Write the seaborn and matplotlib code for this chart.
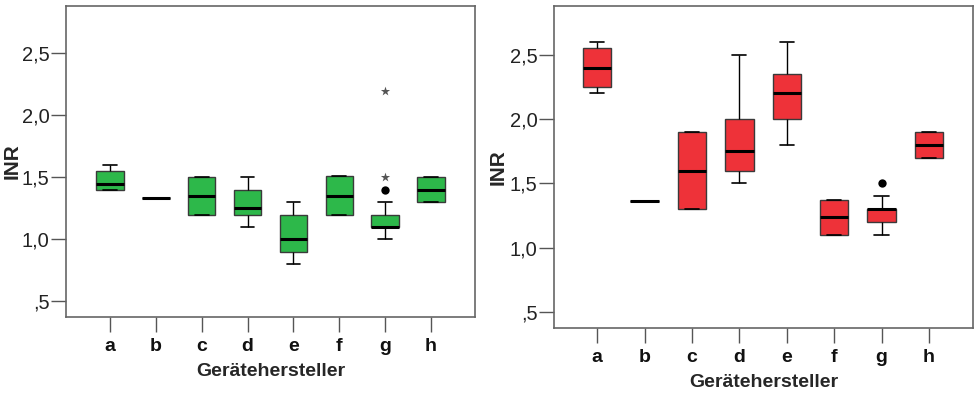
import numpy as np
import pandas as pd
import seaborn as sns
import matplotlib
matplotlib.use("Agg")
import matplotlib.pyplot as plt

# Geräte-Hersteller (x-axis)
hersteller = ["a", "b", "c", "d", "e", "f", "g", "h"]

# INR readings per manufacturer, left panel (green)
inr_links = {
    "a": [1.4, 1.4, 1.45, 1.55, 1.6],
    "b": [1.33, 1.33, 1.33],
    "c": [1.2, 1.2, 1.35, 1.5, 1.5],
    "d": [1.1, 1.2, 1.25, 1.4, 1.5],
    "e": [0.8, 0.9, 1.0, 1.2, 1.3],
    "f": [1.2, 1.2, 1.35, 1.51, 1.51],
    "g": [1.0, 1.1, 1.1, 1.1, 1.1, 1.1, 1.1, 1.1, 1.1,
          1.2, 1.2, 1.2, 1.2, 1.3, 1.4, 1.5, 2.2],
    "h": [1.3, 1.3, 1.4, 1.5, 1.5],
}

# INR readings per manufacturer, right panel (red)
inr_rechts = {
    "a": [2.2, 2.25, 2.4, 2.55, 2.6],
    "b": [1.36, 1.36, 1.36],
    "c": [1.3, 1.3, 1.6, 1.9, 1.9],
    "d": [1.5, 1.6, 1.75, 2.0, 2.5],
    "e": [1.8, 2.0, 2.2, 2.35, 2.6],
    "f": [1.1, 1.1, 1.235, 1.37, 1.37],
    "g": [1.1, 1.2, 1.2, 1.25, 1.3, 1.3, 1.3, 1.4, 1.5],
    "h": [1.7, 1.7, 1.8, 1.9, 1.9],
}

y_ticks = [0.5, 1.0, 1.5, 2.0, 2.5]
y_ticklabels = [",5", "1,0", "1,5", "2,0", "2,5"]

sns.set_theme(style="ticks")
plt.rcParams["font.family"] = ["Liberation Sans", "DejaVu Sans"]


def to_long(d):
    rows = []
    for k in hersteller:
        for v in d[k]:
            rows.append({"Hersteller": k, "INR": v})
    return pd.DataFrame(rows)


def split_outliers(df):
    # SPSS style: circle beyond 1.5 IQR, star beyond 3 IQR
    out = []
    for k, grp in df.groupby("Hersteller"):
        q1, q3 = np.percentile(grp["INR"], [25, 75])
        iqr = q3 - q1
        for v in grp["INR"]:
            dist = max(q1 - v, v - q3)
            if dist > 1.5 * iqr + 1e-9:
                kind = "extrem" if dist > 3 * iqr - 1e-9 else "ausreisser"
                out.append({"Hersteller": k, "INR": v, "Art": kind})
    return pd.DataFrame(out, columns=["Hersteller", "INR", "Art"])


def draw_panel(ax, d, farbe, xlim, label_x):
    df = to_long(d)
    sns.boxplot(data=df, x="Hersteller", y="INR", order=hersteller, ax=ax,
                color=farbe, saturation=1, width=0.6, linecolor="#3a3a3a",
                linewidth=1.0, showfliers=False,
                medianprops=dict(color="black", linewidth=2.2),
                whiskerprops=dict(color="black", linewidth=1.0),
                capprops=dict(color="black", linewidth=1.2))
    fl = split_outliers(df)
    kreise = fl[fl["Art"] == "ausreisser"]
    sterne = fl[fl["Art"] == "extrem"]
    if len(kreise):
        sns.stripplot(data=kreise, x="Hersteller", y="INR", order=hersteller,
                      ax=ax, jitter=False, color="black", marker="o", size=6)
    if len(sterne):
        sns.stripplot(data=sterne, x="Hersteller", y="INR", order=hersteller,
                      ax=ax, jitter=False, color="#555555", marker="*", size=7)
    ax.set_xlim(*xlim)
    ax.set_ylim(0.375, 2.88)
    ax.set_yticks(y_ticks)
    ax.set_yticklabels(y_ticklabels, fontsize=14.5)
    ax.set_xticks(range(len(hersteller)))
    ax.set_xticklabels(hersteller, fontsize=14, fontweight="bold")
    ax.tick_params(axis="y", length=11, width=1, color="#555555", pad=1,
                   labelcolor="#222222")
    ax.tick_params(axis="x", length=11, width=1, color="#555555", pad=4,
                   labelcolor="#111111")
    for s in ax.spines.values():
        s.set_visible(True)
        s.set_color("#666666")
        s.set_linewidth(1.2)
    ax.set_xlabel("Gerätehersteller", fontsize=14, fontweight="bold",
                  labelpad=6)
    ax.set_ylabel("INR", fontsize=15, fontweight="bold")
    ax.yaxis.set_label_coords(label_x, 0.5)


fig = plt.figure(figsize=(9.79, 3.96), dpi=100)
ax1 = fig.add_axes([0.0674, 0.1995, 0.4178, 0.785])
ax2 = fig.add_axes([0.5659, 0.1717, 0.428, 0.813])

draw_panel(ax1, inr_links, "#2db84a", (-0.96, 7.96), -0.108)
draw_panel(ax2, inr_rechts, "#ee3239", (-0.91, 7.93), -0.11)

fig.savefig("out.png", dpi=100)
